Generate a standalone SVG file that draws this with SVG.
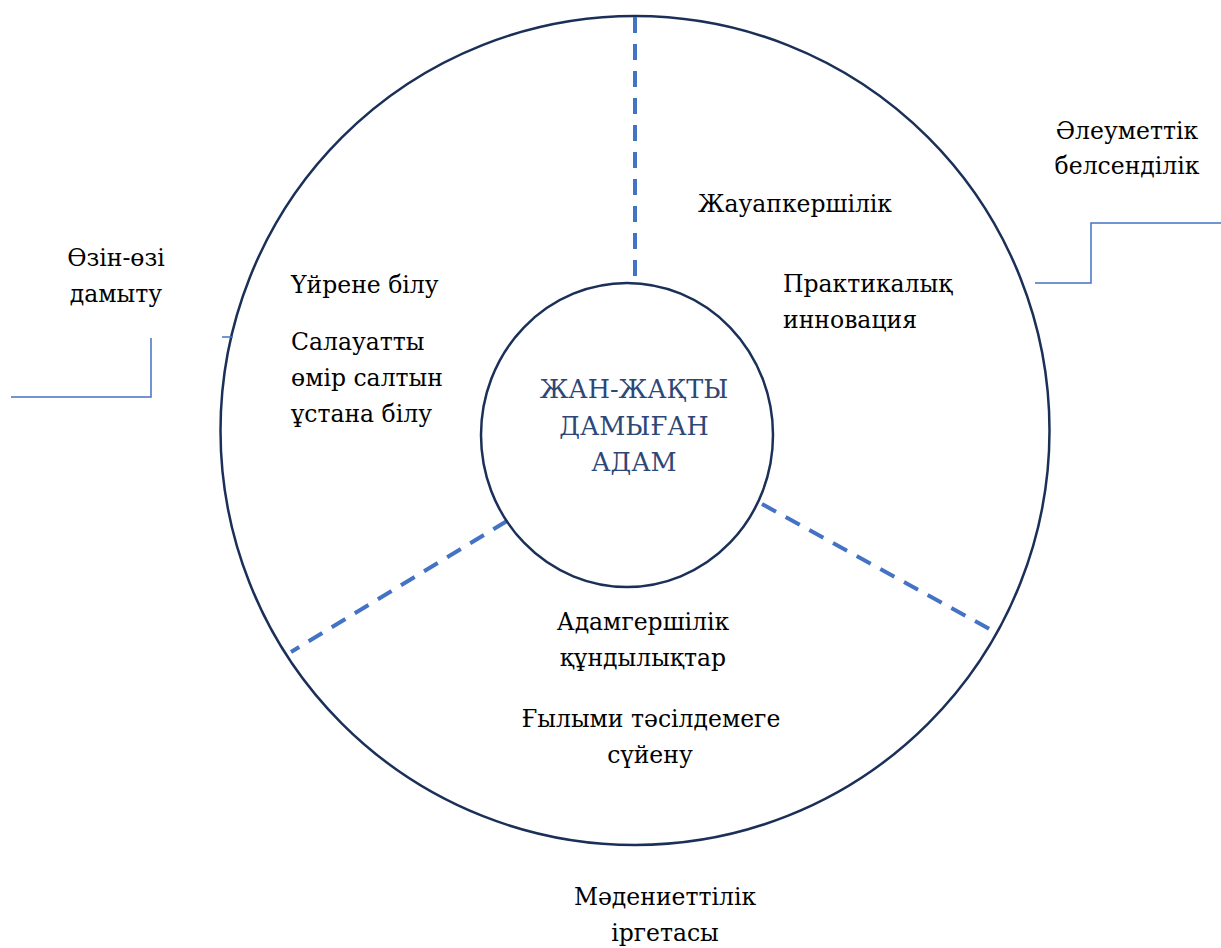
<svg xmlns="http://www.w3.org/2000/svg" width="1221" height="948" viewBox="0 0 1221 948">
<style>
.ring{fill:none;stroke:#1b3058;stroke-width:2.5}
.t{font-family:'DejaVu Serif',serif;font-size:23.5px;fill:#000}
.c{text-anchor:middle}
.ctr{font-family:'DejaVu Serif',serif;font-size:25.5px;fill:#2d4777;text-anchor:middle}
.dash{stroke:#4472c4;stroke-width:4;stroke-dasharray:16 11;fill:none}
.conn{stroke:#4472c4;stroke-width:1.5;fill:none}
</style>
<rect width="1221" height="948" fill="#fff"/>
<g id="outer-ring"><circle class="ring" cx="635" cy="430.5" r="414.5"/></g>
<g id="connectors">
<line class="dash" x1="635" y1="17" x2="635" y2="283"/>
<line class="dash" x1="507" y1="521" x2="291" y2="652"/>
<line class="dash" x1="762" y1="504" x2="997" y2="633"/>
<polyline class="conn" points="11,397 151,397 151,338"/>
<line class="conn" x1="222" y1="337" x2="233" y2="337"/>
<polyline class="conn" points="1035,283 1091,283 1091,223 1221,223"/>
</g>
<g id="center">
<ellipse cx="627" cy="435" rx="146" ry="152" fill="#fff" class="ring"/>
<text class="ctr" x="634" y="398">ЖАН-ЖАҚТЫ</text>
<text class="ctr" x="634" y="434.5">ДАМЫҒАН</text>
<text class="ctr" x="634" y="471">АДАМ</text>
</g>
<g id="sector-right">
<text class="t" x="698" y="212">Жауапкершілік</text>
<text class="t" x="783" y="292">Практикалық</text>
<text class="t" x="783" y="328">инновация</text>
</g>
<g id="sector-left">
<text class="t" x="291" y="293">Үйрене білу</text>
<text class="t" x="291" y="350">Салауатты</text>
<text class="t" x="291" y="386">өмір салтын</text>
<text class="t" x="291" y="422">ұстана білу</text>
</g>
<g id="sector-bottom">
<text class="t c" x="643" y="630">Адамгершілік</text>
<text class="t c" x="643" y="666">құндылықтар</text>
<text class="t c" x="651" y="727">Ғылыми тәсілдемеге</text>
<text class="t c" x="650" y="763">сүйену</text>
</g>
<g id="label-self">
<text class="t c" x="116" y="266">Өзін-өзі</text>
<text class="t c" x="116" y="302">дамыту</text>
</g>
<g id="label-social">
<text class="t c" x="1127" y="139">Әлеуметтік</text>
<text class="t c" x="1127" y="174">белсенділік</text>
</g>
<g id="label-culture">
<text class="t c" x="665" y="905">Мәдениеттілік</text>
<text class="t c" x="665" y="941">іргетасы</text>
</g>
</svg>
